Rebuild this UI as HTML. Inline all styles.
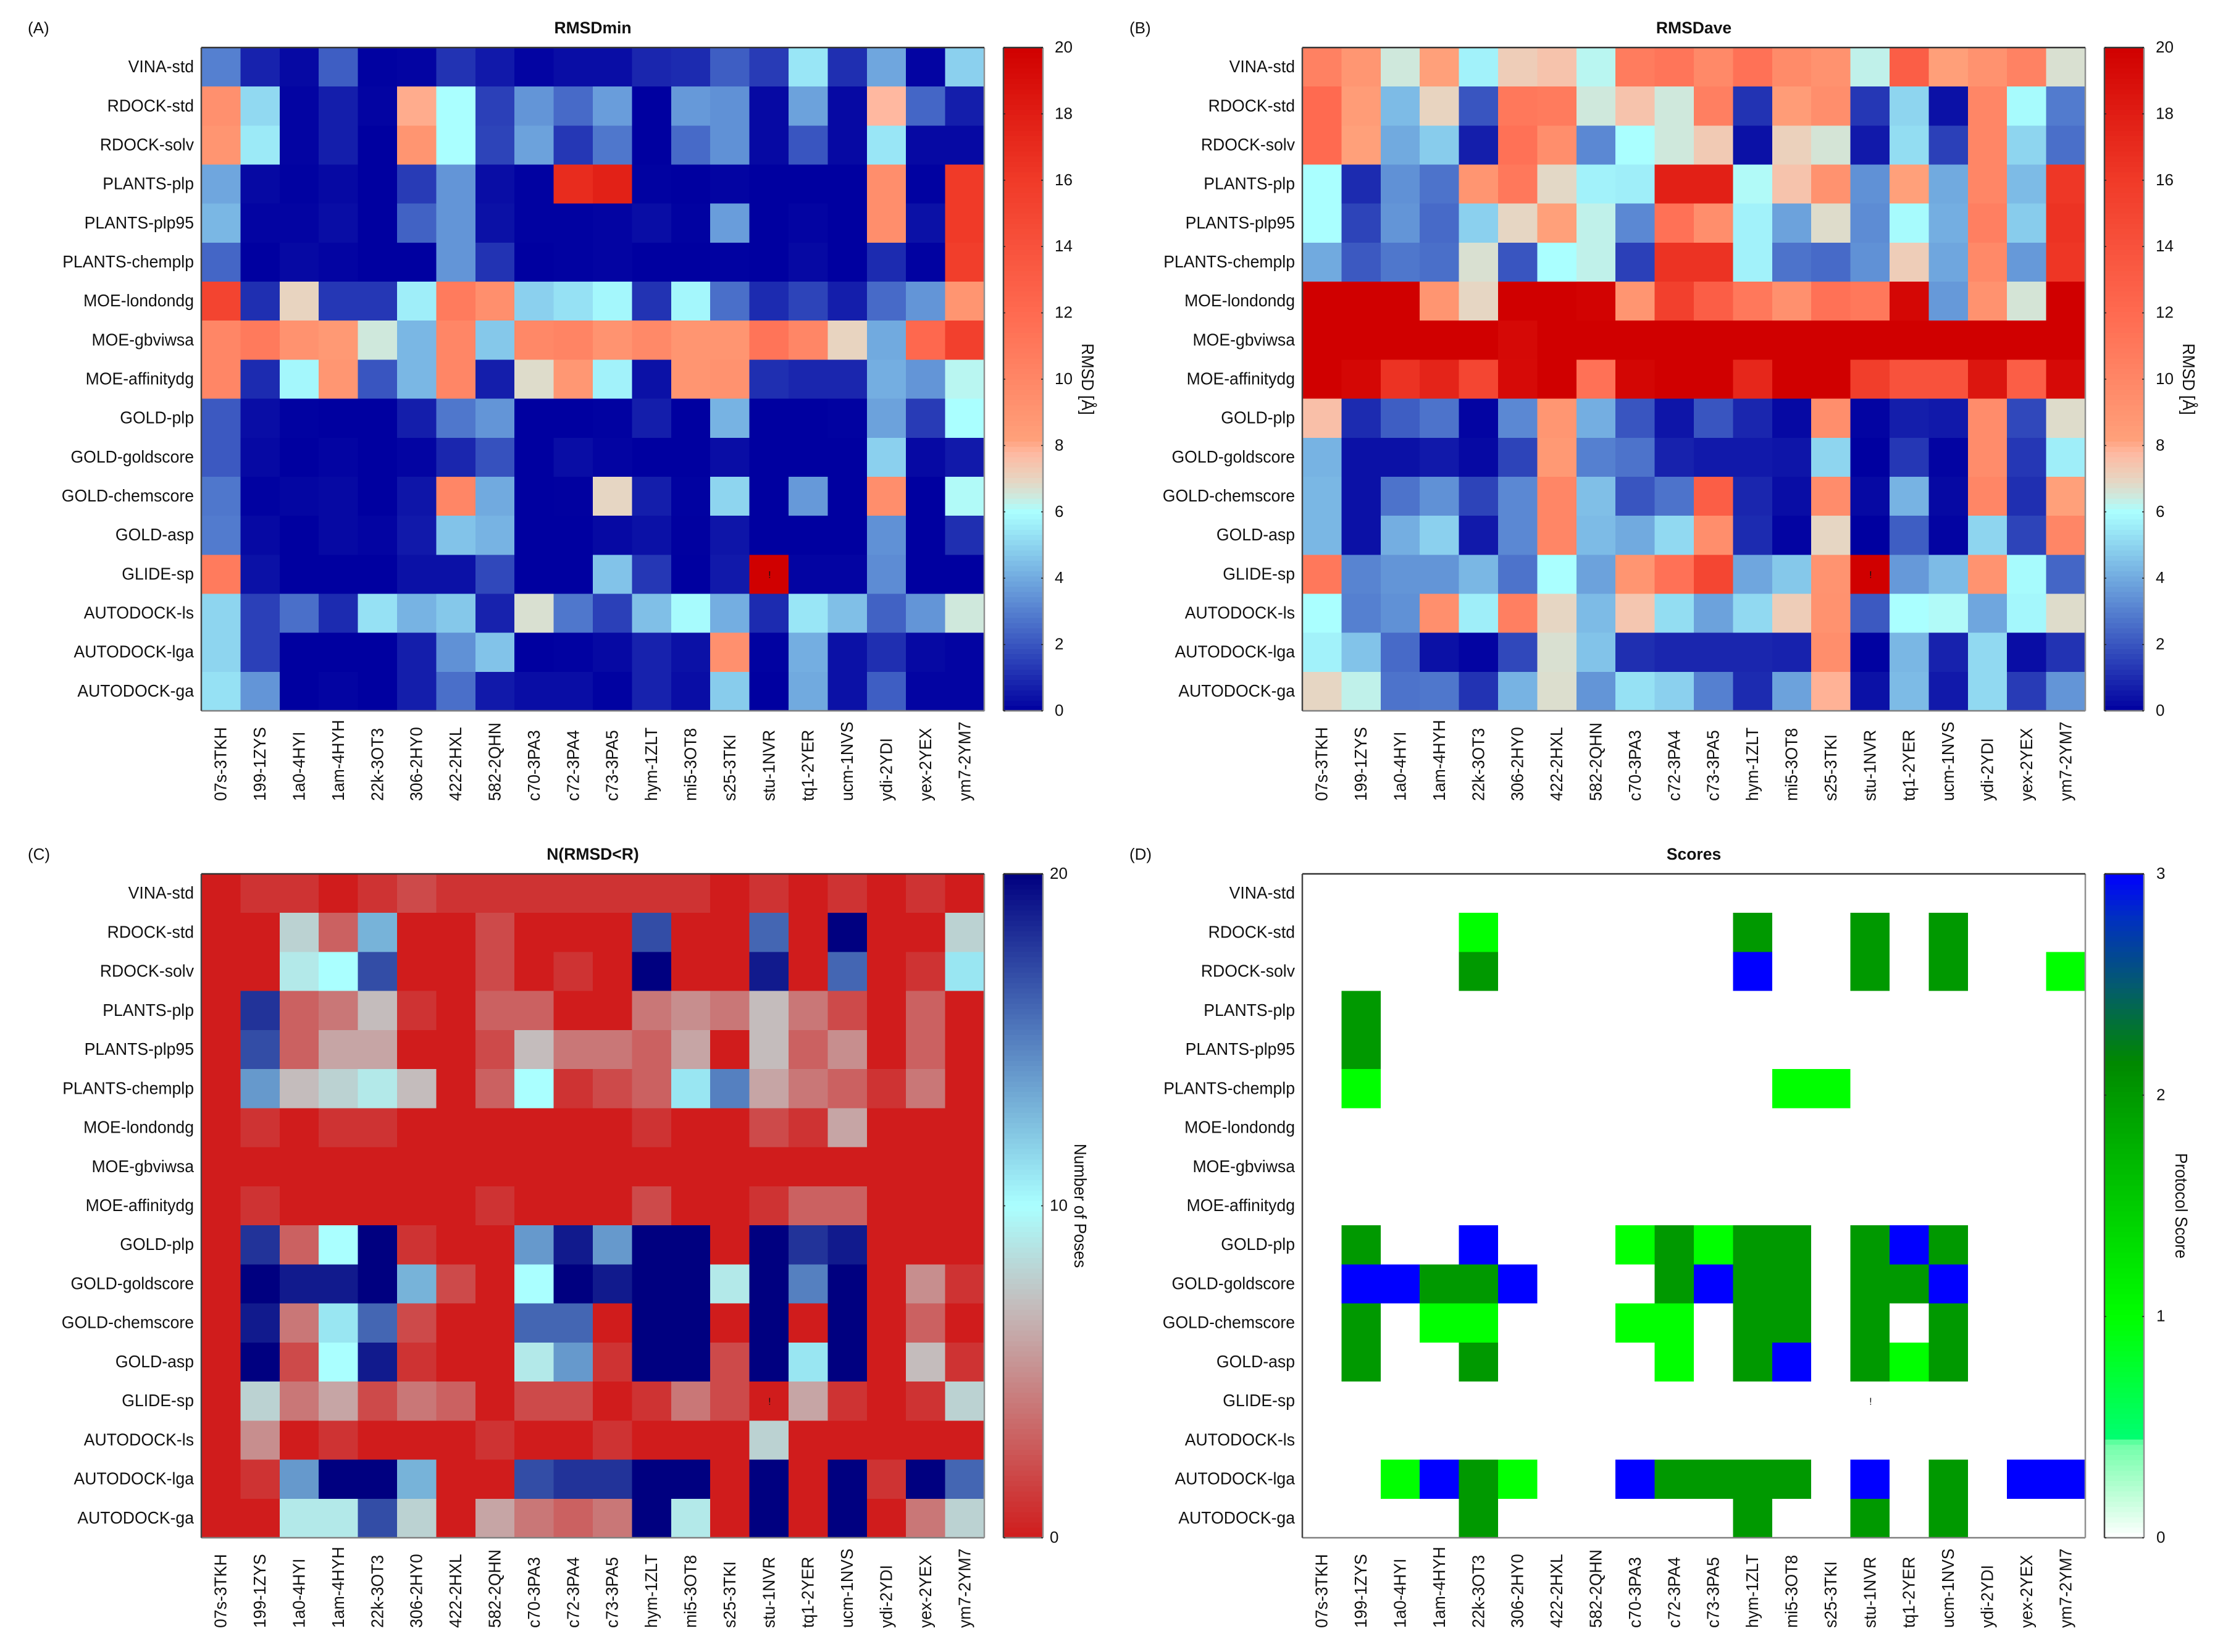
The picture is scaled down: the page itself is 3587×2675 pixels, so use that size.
<!DOCTYPE html>
<html lang="en">
<head>
<meta charset="utf-8">
<title>Docking protocol heatmaps</title>
<style>
html,body{margin:0;padding:0;background:#fff;}
svg{display:block;font-family:"Liberation Sans",Arial,sans-serif;fill:#111;}
</style>
</head>
<body>
<svg id="figure" xmlns="http://www.w3.org/2000/svg" width="3587" height="2675" viewBox="0 0 3587 2675"></svg>
<script>
const protocols = ["VINA-std","RDOCK-std","RDOCK-solv","PLANTS-plp","PLANTS-plp95","PLANTS-chemplp","MOE-londondg","MOE-gbviwsa","MOE-affinitydg","GOLD-plp","GOLD-goldscore","GOLD-chemscore","GOLD-asp","GLIDE-sp","AUTODOCK-ls","AUTODOCK-lga","AUTODOCK-ga"];
const complexes = ["07s-3TKH","199-1ZYS","1a0-4HYI","1am-4HYH","22k-3OT3","306-2HY0","422-2HXL","582-2QHN","c70-3PA3","c72-3PA4","c73-3PA5","hym-1ZLT","mi5-3OT8","s25-3TKI","stu-1NVR","tq1-2YER","ucm-1NVS","ydi-2YDI","yex-2YEX","ym7-2YM7"];

const rmsdMin = [
[3.0,0.8,0.2,2.2,0.05,0.1,1.2,0.6,0.1,0.3,0.3,0.9,1.0,2.2,1.4,5.4,1.1,3.9,0.1,4.9],
[9.3,5.1,0.1,0.7,0.1,8.0,6.0,1.5,3.5,2.5,3.7,0,3.6,3.4,0.2,3.8,0.2,7.8,2.4,0.7],
[9.0,5.5,0.1,0.7,0,9.0,6.0,1.6,3.8,1.3,2.8,0,2.5,3.4,0.2,2.0,0.2,5.4,0.2,0.2],
[3.9,0.2,0.05,0.2,0,1.4,3.5,0.3,0.05,17,17.7,0.05,0,0.1,0,0,0,9.5,0.05,16],
[4.3,0.1,0.1,0.3,0,2.3,3.5,0.4,0.05,0.05,0.1,0.3,0.05,3.7,0,0.1,0,9.5,0.4,16],
[2.4,0,0.2,0.1,0,0,3.5,1.2,0,0.05,0.1,0,0,0.05,0,0.2,0,1.0,0.05,15.7],
[15.2,1.1,7.0,1.3,1.3,5.6,10.8,9.4,4.9,5.3,5.8,1.2,5.8,2.6,1.0,1.6,0.7,2.5,3.5,9],
[10,10.9,9.2,8.7,6.5,4.3,10,4.7,9.9,10.2,9.1,9.8,9,9,11.3,10,7.0,4,12.2,15.5],
[10,1,5.8,8.9,2,4.3,10,0.7,6.8,8.8,5.7,0.4,9,9.2,1.1,0.9,0.9,4.1,3.5,6.2],
[2.1,0.3,0.05,0,0,0.7,2.8,3.5,0,0,0.05,0.7,0,4.2,0,0,0.05,3.8,1.4,6],
[2.1,0.2,0,0.1,0,0.1,0.9,1.9,0,0.3,0.1,0,0,0.3,0,0,0,4.9,0.2,0.6],
[2.8,0.05,0.15,0.2,0,0.5,10,4,0,0.02,6.95,0.7,0.05,5,0,3.6,0,9.5,0,6.1],
[2.9,0.2,0,0.2,0.1,0.6,4.6,4.2,0,0,0.2,0.4,0.02,0.5,0,0,0,3.4,0,1.1],
[10.8,0.4,0,0,0,0.4,0.4,1.7,0,0,4.6,1.3,0,0.6,20,0.1,0.1,3.3,0,0],
[5,1.5,2.6,1,5.3,4.2,4.7,0.8,6.7,2.8,1.5,4.5,5.9,4.1,1.0,5.4,4.5,2.3,3.5,6.5],
[5,1.5,0,0,0,0.7,3.4,4.6,0,0.05,0.2,0.8,0.4,9.3,0.05,4.1,0.4,1.1,0.2,0.1],
[5.3,3.5,0,0.1,0,0.7,2.6,0.6,0.3,0.3,0.05,0.8,0.3,4.8,0,4,0.4,2.2,0.1,0.1]
];

const rmsdAve = [
[10.4,8.9,6.5,8.2,5.7,7.2,7.5,6.2,10.7,11.2,9.8,11.5,9.7,9.2,6.3,13,8.3,9.2,10.3,6.7],
[12,8.5,4.4,7.0,2,11,10.8,6.5,7.5,6.5,10.5,1.2,8.5,9.5,1.3,5,0.4,10,5.9,2.9],
[12,8.2,4.0,4.8,0.7,11.5,9.5,3.2,6,6.5,7.3,0.4,7.1,6.6,0.6,5.2,1.5,10,5,2.6],
[6,1,3.4,2.7,9,11,6.9,5.7,5.6,17.8,17.8,6.1,7.5,9.2,3.4,8.2,4,10,4.4,16.2],
[6,1.6,3.5,2.5,4.9,6.95,8.2,6.3,3.2,11.5,9.5,5.7,3.8,6.8,3.3,5.9,4.1,10.5,4.8,16.5],
[4,2.1,2.8,2.6,6.7,2,6,6.3,1.5,16.5,16.5,5.7,2.7,2.5,3.4,7.2,3.9,9.8,3.6,16.3],
[20,20,20,9,6.95,20,20,19.8,9,15.5,13,11,9.3,11.5,11,19.5,3.6,9.2,6.6,20],
[20,20,20,20,20,19.4,20,20,20,20,20,20,20,20,20,20,20,20,20,20],
[20,19.5,16.5,17.5,15,19.3,20,11.5,19.6,20,20,17.3,20,20,15.7,14,14,18.5,13,19.3],
[7.6,1,2.2,2.7,0.1,3.2,8.9,4.1,2,0.5,2,0.9,0.2,9.5,0.1,0.7,0.6,9.6,1.7,6.8],
[4.2,0.4,0.4,0.6,0.2,1.6,8.7,3.0,2.7,0.8,0.6,0.6,0.5,5,0,1.3,0.1,9.6,1.3,5.6],
[4.3,0.4,2.7,3.4,1.6,3.2,10,4.5,2,2.7,13,0.9,0.3,9.6,0.2,4.2,0.2,10,1.1,8.2],
[4.3,0.4,4.1,4.9,0.6,3.2,10,4.4,4,5.1,9.5,1,0.1,6.95,0,2.2,0.1,5,1.6,10],
[11,3.1,3.5,3.5,4.3,2.7,6,3.8,9,11.5,15,3.9,4.7,9.1,20,3.6,4.4,9.1,5.9,2.4],
[6,3,3.4,9.4,5.6,10.5,6.95,4.4,7.4,5.2,3.8,5.1,7.2,9.2,2.1,6,6.1,3.9,5.8,6.8],
[5.7,4.6,2.5,0.4,0.1,1.7,6.7,4.6,1.1,0.9,0.9,0.9,0.8,9.5,0.05,4.3,0.8,5.1,0.3,1.2],
[6.95,6.3,2.7,2.8,1.2,4.2,6.75,3.5,5.3,4.9,3,1,3.8,7.9,0.4,4.4,0.6,5.1,1.4,3.5]
];

const poseCount = [
[0,1,1,0,1,2,1,1,1,1,1,1,1,0,1,0,1,0,1,0],
[0,0,8,3,13,0,0,2,0,0,0,17,0,0,16,0,20,0,0,8],
[0,0,9,10,17,0,0,2,0,1,0,20,0,0,19,0,16,0,1,11],
[0,18,3,4,7,1,0,3,3,0,0,4,5,4,7,4,2,0,3,0],
[0,17,3,6,6,0,0,2,7,4,4,3,6,0,7,3,5,0,3,0],
[0,14,7,8,9,7,0,3,10,1,2,3,11,15,6,4,3,1,4,0],
[0,1,0,1,1,0,0,0,0,0,0,1,0,0,2,1,6,0,0,0],
[0,0,0,0,0,0,0,0,0,0,0,0,0,0,0,0,0,0,0,0],
[0,1,0,0,0,0,0,1,0,0,0,2,0,0,1,3,3,0,0,0],
[0,18,3,10,20,1,0,0,14,19,14,20,20,0,20,18,19,0,0,0],
[0,20,19,19,20,13,2,0,10,20,19,20,20,9,20,15,20,0,5,1],
[0,19,4,11,16,2,0,0,16,16,0,20,20,0,20,0,20,0,3,0],
[0,20,2,10,19,1,0,0,9,14,1,20,20,2,20,11,20,0,7,1],
[0,8,4,6,2,4,3,0,2,2,0,1,4,2,0,6,1,0,1,8],
[0,5,0,1,0,0,0,1,0,0,1,0,0,0,8,0,0,0,0,0],
[0,1,14,20,20,13,0,0,17,18,18,20,20,0,20,0,20,1,20,16],
[0,0,9,9,17,8,0,6,4,3,4,20,9,0,20,0,20,0,4,8]
];

const protocolScore = [
[0,0,0,0,0,0,0,0,0,0,0,0,0,0,0,0,0,0,0,0],
[0,0,0,0,1,0,0,0,0,0,0,2,0,0,2,0,2,0,0,0],
[0,0,0,0,2,0,0,0,0,0,0,3,0,0,2,0,2,0,0,1],
[0,2,0,0,0,0,0,0,0,0,0,0,0,0,0,0,0,0,0,0],
[0,2,0,0,0,0,0,0,0,0,0,0,0,0,0,0,0,0,0,0],
[0,1,0,0,0,0,0,0,0,0,0,0,1,1,0,0,0,0,0,0],
[0,0,0,0,0,0,0,0,0,0,0,0,0,0,0,0,0,0,0,0],
[0,0,0,0,0,0,0,0,0,0,0,0,0,0,0,0,0,0,0,0],
[0,0,0,0,0,0,0,0,0,0,0,0,0,0,0,0,0,0,0,0],
[0,2,0,0,3,0,0,0,1,2,1,2,2,0,2,3,2,0,0,0],
[0,3,3,2,2,3,0,0,0,2,3,2,2,0,2,2,3,0,0,0],
[0,2,0,1,1,0,0,0,1,1,0,2,2,0,2,0,2,0,0,0],
[0,2,0,0,2,0,0,0,0,1,0,2,3,0,2,1,2,0,0,0],
[0,0,0,0,0,0,0,0,0,0,0,0,0,0,0,0,0,0,0,0],
[0,0,0,0,0,0,0,0,0,0,0,0,0,0,0,0,0,0,0,0],
[0,0,1,3,2,1,0,0,3,2,2,2,2,0,3,0,2,0,3,3],
[0,0,0,0,2,0,0,0,0,0,0,2,0,0,2,0,2,0,0,0]
];

const rmsdTicks = [0,2,4,6,8,10,12,14,16,18,20];
const poseTicks = [0,10,20];
const scoreTicks = [0,1,2,3];

const rmsdStops = [[0,"#0000a0"],[6,"#aaffff"],[6.5,"#cfe8dc"],[7,"#e8d4c0"],[7.8,"#ffb8a0"],[8.2,"#ffa07a"],[12,"#ff6a50"],[16,"#f03a28"],[20,"#d00000"]];
const poseStops = [[0,"#d01c1c"],[7,"#c4bcbc"],[10,"#aaffff"],[20,"#000080"]];
const scoreStops = [[0,"#ffffff"],[0.43,"#70ffa8"],[0.45,"#00ff70"],[1,"#00ff00"],[2,"#009900"],[2.15,"#008800"],[2.5,"#045a70"],[2.8,"#0030c0"],[3,"#0000ff"]];

const panels = [
  {key:"a",letter:"(A)",title:"RMSDmin",barTitle:"RMSD [Å]",values:rmsdMin,stops:rmsdStops,ticks:rmsdTicks,max:20,x0:326,x1:1594,y0:77,y1:1151,letterX:45,barX:1625,tickX:1708,barTitleX:1762},
  {key:"b",letter:"(B)",title:"RMSDave",barTitle:"RMSD [Å]",values:rmsdAve,stops:rmsdStops,ticks:rmsdTicks,max:20,x0:2109,x1:3377,y0:77,y1:1151,letterX:1829,barX:3408,tickX:3491,barTitleX:3545},
  {key:"c",letter:"(C)",title:"N(RMSD<R)",barTitle:"Number of Poses",values:poseCount,stops:poseStops,ticks:poseTicks,max:20,x0:326,x1:1594,y0:1415,y1:2490,letterX:45,barX:1625,tickX:1700,barTitleX:1750},
  {key:"d",letter:"(D)",title:"Scores",barTitle:"Protocol Score",values:protocolScore,stops:scoreStops,ticks:scoreTicks,max:3,x0:2109,x1:3377,y0:1415,y1:2490,letterX:1829,barX:3408,tickX:3492,barTitleX:3533}
];

const NS = "http://www.w3.org/2000/svg";
const figure = document.getElementById("figure");

function hexToRgb(h){return [parseInt(h.slice(1,3),16),parseInt(h.slice(3,5),16),parseInt(h.slice(5,7),16)];}
function colorFor(stops,v){
  if(v<=stops[0][0])return stops[0][1];
  for(let i=1;i<stops.length;i++){
    if(v<=stops[i][0]){
      const t=(v-stops[i-1][0])/(stops[i][0]-stops[i-1][0]);
      const a=hexToRgb(stops[i-1][1]),b=hexToRgb(stops[i][1]);
      return "rgb("+a.map((c,k)=>Math.round(c+(b[k]-c)*t)).join(",")+")";
    }
  }
  return stops[stops.length-1][1];
}
function addText(parent,str,transform,size,anchor,weight,name){
  const el=document.createElementNS(NS,"text");
  el.textContent=str;
  el.setAttribute("transform",transform);
  el.setAttribute("font-size",size);
  el.setAttribute("text-anchor",anchor);
  if(weight)el.setAttribute("font-weight",weight);
  
  
  parent.appendChild(el);
  return el;
}
function addLine(parent,x1,y1,x2,y2,color,width,name){
  const el=document.createElementNS(NS,"line");
  el.setAttribute("x1",x1);
  el.setAttribute("y1",y1);
  el.setAttribute("x2",x2);
  el.setAttribute("y2",y2);
  el.setAttribute("stroke",color);
  el.setAttribute("stroke-width",width);
  
  
  parent.appendChild(el);
}
function addFrame(parent,x0,y0,x1,y1,name){
  addLine(parent,x0,y1,x1,y1,"#808080",2.5,name+"-bottom");
  addLine(parent,x1,y0,x1,y1,"#909090",2.5,name+"-right");
  addLine(parent,x0,y0,x1,y0,"#333333",2.5,name+"-top");
  addLine(parent,x0,y0,x0,y1,"#444444",2.5,name+"-left");
}

panels.forEach(p=>{
  const g=document.createElementNS(NS,"g");
  
  
  figure.appendChild(g);

  const cols=complexes.length, rows=protocols.length;
  const xScale=c=>p.x0+c*(p.x1-p.x0)/cols;
  const yScale=r=>p.y0+r*(p.y1-p.y0)/rows;
  const barY=v=>p.y1-(v/p.max)*(p.y1-p.y0);
  const barW=64;

  addText(g,p.letter,"translate("+p.letterX+","+(p.y0-23)+")",26,"start",null,"panel-label");
  addText(g,p.title,"translate("+((p.x0+p.x1)/2)+","+(p.y0-23)+")",26.5,"middle","bold","chart-title");

  const cells=document.createElementNS(NS,"g");
  cells.setAttribute("shape-rendering","crispEdges");
  
  
  g.appendChild(cells);
  p.values.forEach((row,r)=>{
    row.forEach((v,c)=>{
      const rect=document.createElementNS(NS,"rect");
      rect.setAttribute("x",xScale(c));
      rect.setAttribute("y",yScale(r));
      rect.setAttribute("width",xScale(c+1)-xScale(c)+0.5);
      rect.setAttribute("height",yScale(r+1)-yScale(r)+0.5);
      rect.setAttribute("fill",colorFor(p.stops,v));
      
      
      cells.appendChild(rect);
    });
  });

  addText(g,"!","translate("+(xScale(14.5)+1)+","+(yScale(13.5)+6)+")",16,"middle",null,"glide-stu-marker");
  addFrame(g,p.x0,p.y0,p.x1,p.y1,"plot-frame");

  protocols.forEach((name,r)=>{
    addText(g,name,"translate("+(p.x0-12)+","+(yScale(r+0.5)+8.5)+") scale(0.95,1)",28,"end",null,"y-tick-label");
  });
  complexes.forEach((name,c)=>{
    addText(g,name,"translate("+(xScale(c+0.5)+9)+","+(p.y1+146)+") rotate(-90) scale(0.95,1)",28,"start",null,"x-tick-label");
  });

  const bar=document.createElementNS(NS,"g");
  bar.setAttribute("shape-rendering","crispEdges");
  
  
  g.appendChild(bar);
  const steps=128;
  for(let i=0;i<steps;i++){
    const seg=document.createElementNS(NS,"rect");
    const lo=p.max*i/steps, hi=p.max*(i+1)/steps;
    seg.setAttribute("x",p.barX);
    seg.setAttribute("y",barY(hi));
    seg.setAttribute("width",barW);
    seg.setAttribute("height",barY(lo)-barY(hi)+0.5);
    seg.setAttribute("fill",colorFor(p.stops,(lo+hi)/2));
    
    
    bar.appendChild(seg);
  }
  addFrame(g,p.barX,p.y0,p.barX+barW,p.y1,"colorbar-frame");

  p.ticks.forEach(t=>{
    const y=barY(t);
    addLine(g,p.barX,y,p.barX+3,y,"#222",1.5,"colorbar-tick-left");
    addLine(g,p.barX+barW-3,y,p.barX+barW,y,"#222",1.5,"colorbar-tick-right");
    addText(g,String(t),"translate("+p.tickX+","+(y+8)+")",26,"start",null,"colorbar-tick-label");
  });
  addText(g,p.barTitle,"translate("+(p.barTitleX-10)+","+((p.y0+p.y1)/2)+") rotate(90) scale(0.93,1)",28,"middle",null,"colorbar-title");
});
</script>
</body>
</html>
